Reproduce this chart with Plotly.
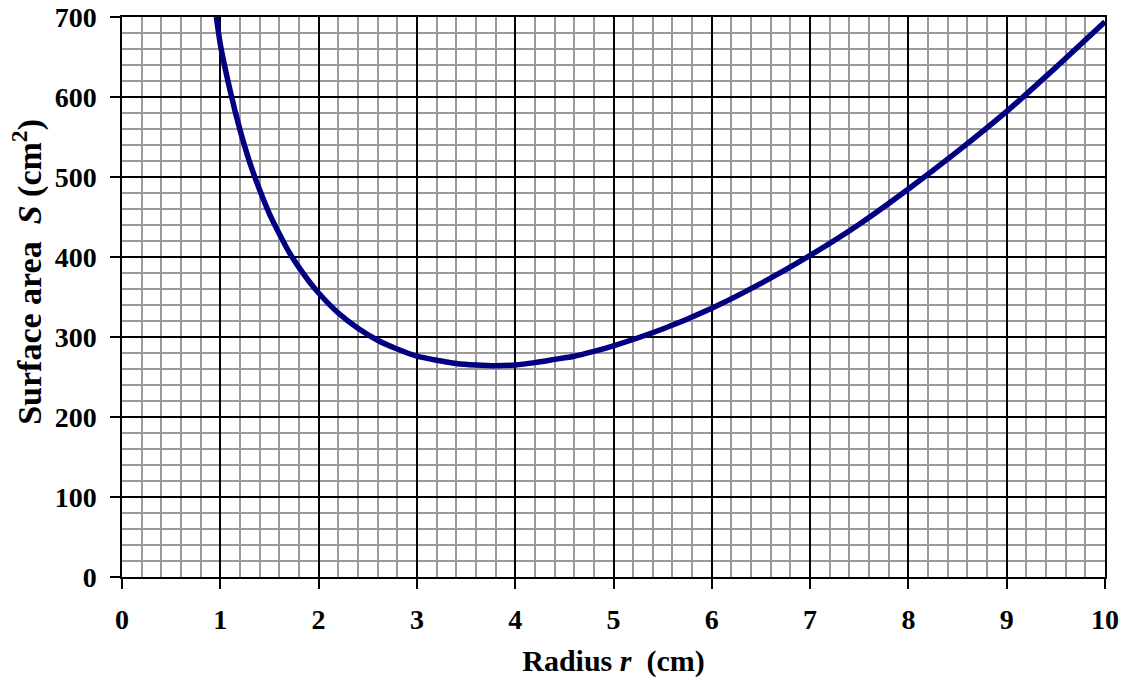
import plotly.graph_objects as go

radius_cm = [0.96, 1.0, 1.1, 1.2, 1.3, 1.4, 1.5, 1.6, 1.7, 1.8, 1.9, 2.0, 2.2, 2.4, 2.6, 2.8,
             3.0, 3.2, 3.4, 3.6, 3.8, 4.0, 4.2, 4.4, 4.6, 4.8, 5.0, 5.5, 6.0, 6.5, 7.0,
             7.5, 8.0, 8.5, 9.0, 9.5, 10.0]
surface_cm2 = [700, 666, 608, 559, 518, 484, 454, 429, 406, 387, 370, 355, 330, 311, 296, 285,
               276, 271, 267, 265, 264, 265, 268, 272, 276, 282, 289, 310, 336, 367, 402,
               441, 485, 532, 582, 637, 694]

x_ticks = [0, 1, 2, 3, 4, 5, 6, 7, 8, 9, 10]
y_ticks = [0, 100, 200, 300, 400, 500, 600, 700]

FONT = "Liberation Serif"

fig = go.Figure()
fig.add_trace(go.Scatter(
    x=radius_cm, y=surface_cm2, mode="lines",
    line=dict(color="#000080", width=5.5, shape="spline", smoothing=0.6),
    showlegend=False, hoverinfo="skip",
))

axis_common = dict(
    showline=True, linecolor="black", linewidth=1.5, mirror=True,
    showgrid=True, gridcolor="black", gridwidth=1.5,
    ticks="outside", ticklen=10, tickcolor="black", tickwidth=1.5,
    zeroline=False, automargin=False,
    tickfont=dict(family=FONT, size=28, color="black", weight="bold"),
)

fig.update_xaxes(
    range=[0, 10], tickvals=x_ticks, ticktext=[str(v) for v in x_ticks],
    minor=dict(dtick=0.2, showgrid=True, gridcolor="#9a9a9a", gridwidth=1.5, ticks=""),
    title=dict(text="Radius <i>r</i>&nbsp;&nbsp;(cm)", font=dict(family=FONT, size=30, color="black", weight="bold"), standoff=16),
    ticklabelstandoff=7,
    **axis_common,
)
fig.update_yaxes(
    range=[0, 700], tickvals=y_ticks, ticktext=[str(v) for v in y_ticks],
    minor=dict(dtick=20, showgrid=True, gridcolor="#9a9a9a", gridwidth=1.5, ticks=""),
    ticklabelstandoff=8,
    **axis_common,
)

fig.add_annotation(
    text="Surface area&nbsp;&nbsp;<i>S</i>&nbsp;(cm<sup>2</sup>)",
    xref="paper", yref="paper", x=0, y=0.545, xshift=-94,
    xanchor="center", yanchor="middle", textangle=-90, showarrow=False,
    font=dict(family=FONT, size=34, color="black", weight="bold"),
)

fig.update_layout(
    width=1123, height=683,
    margin=dict(l=122, r=18, t=17, b=106),
    paper_bgcolor="white", plot_bgcolor="white",
    font=dict(family=FONT, color="black"),
)

fig.write_html("out.html")
